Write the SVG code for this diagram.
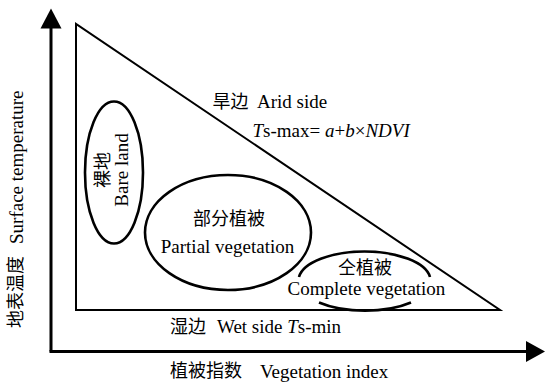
<svg xmlns="http://www.w3.org/2000/svg" width="545" height="382" viewBox="0 0 545 382">
<style>
.t{font-family:"Liberation Serif","Noto Sans CJK SC",serif;font-size:19px;fill:#000}
.c{font-family:"Noto Sans CJK SC","Liberation Serif",sans-serif;font-size:18px;fill:#000}
.i{font-style:italic}
.ax{stroke:#000;stroke-width:3;fill:none}
.ln{stroke:#000;stroke-width:2;fill:none}
.el{stroke:#000;stroke-width:2.6;fill:none}
</style>
<rect width="545" height="382" fill="#fff"/>
<g id="axes">
<line class="ax" x1="51" y1="26" x2="51" y2="351.5"/>
<line class="ax" x1="49.5" y1="351.5" x2="528" y2="351.5"/>
<polygon points="51,8.5 40.5,28.5 61.5,28.5" fill="#000"/>
<polygon points="545,351.5 526,341 526,362" fill="#000"/>
</g>
<g id="triangle">
<polygon class="ln" points="76,24 76,310 500,310"/>
</g>
<g id="bare-land">
<ellipse class="el" cx="114" cy="172.5" rx="29" ry="71"/>
<g transform="translate(114,170) rotate(-90)">
<text class="c" x="0" y="-5" text-anchor="middle">裸地</text>
<text class="t" x="0" y="13.5" text-anchor="middle">Bare land</text>
</g>
</g>
<g id="partial-vegetation">
<ellipse class="el" cx="228" cy="232.5" rx="83" ry="57.5"/>
<text class="c" x="229" y="224.5" text-anchor="middle">部分植被</text>
<text class="t" x="227.5" y="252.5" text-anchor="middle">Partial vegetation</text>
</g>
<g id="complete-vegetation">
<path class="el" d="M299,277 A66,29 0 0 1 430,277"/>
<path class="el" d="M319,302.5 A67,30 0 0 0 411,302.5"/>
<text class="c" x="365" y="273.5" text-anchor="middle">仝植被</text>
<text class="t" x="366.5" y="295" text-anchor="middle">Complete vegetation</text>
</g>
<g id="labels">
<text class="c" x="212.5" y="107.5">旱边</text>
<text class="t" x="257" y="108.3">Arid side</text>
<text class="t" x="252.5" y="137.3"><tspan class="i">T</tspan>s-max= <tspan class="i">a</tspan>+<tspan class="i">b</tspan>×<tspan class="i">NDVI</tspan></text>
<text class="c" x="170" y="332.5">湿边</text>
<text class="t" x="217" y="333.3">Wet side <tspan class="i">T</tspan>s-min</text>
<text class="c" x="170" y="377">植被指数</text>
<text class="t" x="260" y="378">Vegetation index</text>
<g transform="translate(22.5,328) rotate(-90)">
<text class="c" x="0" y="-1">地表温度</text>
<text class="t" x="84" y="0">Surface temperature</text>
</g>
</g>
</svg>
